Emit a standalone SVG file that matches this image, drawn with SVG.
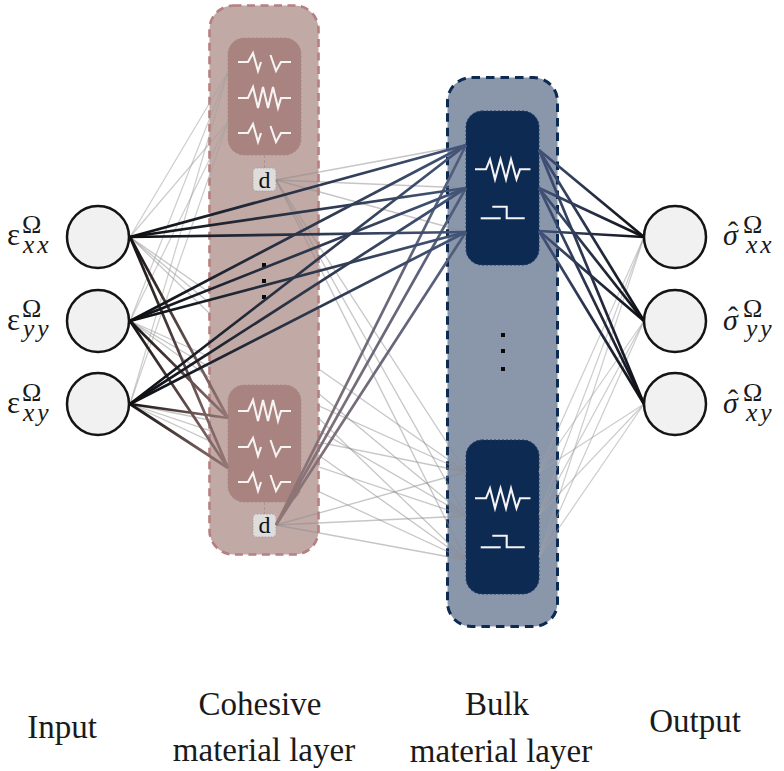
<svg xmlns="http://www.w3.org/2000/svg" width="784" height="771" viewBox="0 0 784 771">
<style>
text{font-family:"Liberation Serif","Times New Roman",serif;fill:#1a1a1a}
.lbl{font-size:33px;text-anchor:middle}
.eps{font-size:31px}
.om{font-size:26px}
.sub{font-size:25.5px;font-style:italic}
.sig{font-size:30px;font-style:italic}
.hat{font-size:30px}
.dt{font-size:24px;text-anchor:middle;fill:#111}
.outC{fill:#c1a9a6;stroke:#b5807f;stroke-width:2.6;stroke-dasharray:8 5.5}
.outB{fill:#8a96aa;stroke:#0c2a52;stroke-width:3;stroke-dasharray:8.5 6}
.inC{fill:#a9837f;stroke:#ae8885;stroke-width:1;stroke-dasharray:2 2}
.inB{fill:#0c2a52;stroke:#1f3a60;stroke-width:1;stroke-dasharray:2 2}
.dbox{fill:#dedddc;stroke:#a5a09f;stroke-width:1;stroke-dasharray:1.5 1.5}
.stem{stroke:#b58f8c;stroke-width:1;stroke-dasharray:3 2;fill:none}
.sym{fill:none;stroke:#f6f4f3;stroke-width:2.1;stroke-linejoin:miter}
.cir{fill:#f2f1f1;stroke:#141414;stroke-width:2.5}
line{fill:none}
.thin{stroke:#8e8e8e;stroke-opacity:.5;stroke-width:1.3}
.thinL{stroke:#a3a3a3;stroke-opacity:.55;stroke-width:1.2}
.a{stroke:url(#gA);stroke-width:2.7}
.b{stroke:url(#gB);stroke-width:2.7}
.c{stroke:url(#gC);stroke-width:2.7}
.d{stroke:url(#gD);stroke-width:2.7}
</style>
<defs>
<linearGradient id="gA" gradientUnits="userSpaceOnUse" x1="130" y1="0" x2="466" y2="0"><stop offset="0" stop-color="#0e0e10"/><stop offset=".5" stop-color="#2b3549"/><stop offset="1" stop-color="#435579"/></linearGradient>
<linearGradient id="gB" gradientUnits="userSpaceOnUse" x1="130" y1="0" x2="228" y2="0"><stop offset="0" stop-color="#121010"/><stop offset="1" stop-color="#977775"/></linearGradient>
<linearGradient id="gC" gradientUnits="userSpaceOnUse" x1="276" y1="0" x2="466" y2="0"><stop offset="0" stop-color="#937674"/><stop offset=".5" stop-color="#6f6a7a"/><stop offset="1" stop-color="#4b5b7b"/></linearGradient>
<linearGradient id="gD" gradientUnits="userSpaceOnUse" x1="539" y1="0" x2="644" y2="0"><stop offset="0" stop-color="#41527a"/><stop offset="1" stop-color="#0e0e12"/></linearGradient>
<polyline id="full" points="238,0 248,0 253,-11 258,10 263,-11 268,10 273,-11 278,10 281,0 291,0"/>
<g id="half"><polyline points="238,0 248,0 253,-9 258,9 261,0"/><polyline points="270.5,-7 276,9 281,0 291,0"/></g>
<g id="bulkSym"><polyline points="475,0 486,0 490,-10 495,10 500.5,-10 506,10 511,-10 516.5,10 520,0 530.5,0"/><polyline points="480.7,49 500.7,49"/><polyline points="492.3,37.5 506.7,37.5 506.7,49 524.7,49"/></g>
</defs>
<rect width="784" height="771" fill="#fff"/>

<g id="node-bulk-layer">
<rect class="outB" x="447.5" y="77.5" width="110" height="549" rx="24"/>
<rect class="inB" x="466" y="111" width="73" height="154" rx="16"/>
<rect class="inB" x="466" y="440" width="73" height="154" rx="16"/>
<use href="#bulkSym" class="sym" y="169.3"/>
<use href="#bulkSym" class="sym" y="498.3"/>
<rect x="501" y="333" width="4" height="4" fill="#0a0a0a"/>
<rect x="501" y="349" width="4" height="4" fill="#0a0a0a"/>
<rect x="501" y="367" width="4" height="4" fill="#0a0a0a"/>
</g>

<g id="connectors-behind-cohesive">
<line class="thin" x1="130" y1="237" x2="466" y2="472"/><line class="thin" x1="130" y1="237" x2="466" y2="516"/><line class="thin" x1="130" y1="237" x2="466" y2="560"/>
<line class="thin" x1="130" y1="321" x2="466" y2="472"/><line class="thin" x1="130" y1="321" x2="466" y2="516"/><line class="thin" x1="130" y1="321" x2="466" y2="560"/>
<line class="thin" x1="130" y1="404" x2="466" y2="472"/><line class="thin" x1="130" y1="404" x2="466" y2="516"/><line class="thin" x1="130" y1="404" x2="466" y2="560"/>
</g>

<g id="node-cohesive-layer">
<rect class="outC" x="209.5" y="5.5" width="109" height="549" rx="24"/>
<line class="stem" x1="264.5" y1="155" x2="264.5" y2="168"/>
<line class="stem" x1="264.5" y1="502" x2="264.5" y2="514"/>
<rect class="inC" x="228" y="38" width="73" height="117" rx="16"/>
<rect class="inC" x="228" y="385" width="73" height="117" rx="16"/>
<use href="#half" class="sym" y="62"/>
<use href="#full" class="sym" y="98"/>
<use href="#half" class="sym" y="133"/>
<use href="#full" class="sym" y="411"/>
<use href="#half" class="sym" y="447"/>
<use href="#half" class="sym" y="482"/>
<rect x="262" y="263" width="4" height="4" fill="#0a0a0a"/>
<rect x="262" y="279" width="4" height="4" fill="#0a0a0a"/>
<rect x="262" y="295" width="4" height="4" fill="#0a0a0a"/>
</g>
<g id="node-d-top"><rect class="dbox" x="253" y="168" width="23" height="23" rx="4"/><text class="dt" x="264.5" y="187.5">d</text></g>
<g id="node-d-bottom"><rect class="dbox" x="253" y="514" width="23" height="23" rx="4"/><text class="dt" x="264.5" y="532.5">d</text></g>

<g id="connectors">
<line class="thinL" x1="130" y1="237" x2="228" y2="72"/><line class="thinL" x1="130" y1="237" x2="228" y2="122"/>
<line class="thinL" x1="130" y1="321" x2="228" y2="72"/><line class="thinL" x1="130" y1="321" x2="228" y2="122"/>
<line class="thinL" x1="130" y1="404" x2="228" y2="72"/><line class="thinL" x1="130" y1="404" x2="228" y2="122"/>

<line class="thin" x1="276" y1="180" x2="466" y2="145"/><line class="thin" x1="276" y1="180" x2="466" y2="188"/><line class="thin" x1="276" y1="180" x2="466" y2="232"/>
<line class="thin" x1="276" y1="180" x2="466" y2="472"/><line class="thin" x1="276" y1="180" x2="466" y2="516"/><line class="thin" x1="276" y1="180" x2="466" y2="560"/>
<line class="thin" x1="276" y1="525" x2="466" y2="472"/><line class="thin" x1="276" y1="525" x2="466" y2="516"/><line class="thin" x1="276" y1="525" x2="466" y2="560"/>

<line class="thinL" x1="539" y1="472" x2="644" y2="237"/><line class="thinL" x1="539" y1="472" x2="644" y2="321"/><line class="thinL" x1="539" y1="472" x2="644" y2="404"/>
<line class="thinL" x1="539" y1="515" x2="644" y2="237"/><line class="thinL" x1="539" y1="515" x2="644" y2="321"/><line class="thinL" x1="539" y1="515" x2="644" y2="404"/>
<line class="thinL" x1="539" y1="557" x2="644" y2="237"/><line class="thinL" x1="539" y1="557" x2="644" y2="321"/><line class="thinL" x1="539" y1="557" x2="644" y2="404"/>

<line class="b" x1="130" y1="237" x2="228" y2="418"/><line class="b" x1="130" y1="237" x2="228" y2="468"/>
<line class="b" x1="130" y1="321" x2="228" y2="418"/><line class="b" x1="130" y1="321" x2="228" y2="468"/>
<line class="b" x1="130" y1="404" x2="228" y2="418"/><line class="b" x1="130" y1="404" x2="228" y2="468"/>

<line class="c" x1="276" y1="525" x2="466" y2="145"/><line class="c" x1="276" y1="525" x2="466" y2="188"/><line class="c" x1="276" y1="525" x2="466" y2="232"/>

<line class="a" x1="130" y1="237" x2="466" y2="145"/><line class="a" x1="130" y1="237" x2="466" y2="188"/><line class="a" x1="130" y1="237" x2="466" y2="232"/>
<line class="a" x1="130" y1="321" x2="466" y2="145"/><line class="a" x1="130" y1="321" x2="466" y2="188"/><line class="a" x1="130" y1="321" x2="466" y2="232"/>
<line class="a" x1="130" y1="404" x2="466" y2="145"/><line class="a" x1="130" y1="404" x2="466" y2="188"/><line class="a" x1="130" y1="404" x2="466" y2="232"/>

<line class="d" x1="539" y1="150" x2="644" y2="237"/><line class="d" x1="539" y1="150" x2="644" y2="321"/><line class="d" x1="539" y1="150" x2="644" y2="404"/>
<line class="d" x1="539" y1="188" x2="644" y2="237"/><line class="d" x1="539" y1="188" x2="644" y2="321"/><line class="d" x1="539" y1="188" x2="644" y2="404"/>
<line class="d" x1="539" y1="231" x2="644" y2="237"/><line class="d" x1="539" y1="231" x2="644" y2="321"/><line class="d" x1="539" y1="231" x2="644" y2="404"/>
</g>

<g id="node-in-xx"><circle class="cir" cx="98" cy="237" r="31"/><text><tspan class="eps" x="7" y="245">ε</tspan><tspan class="om" x="22" y="233">Ω</tspan><tspan class="sub" x="23" y="253" dx="0 3">xx</tspan></text></g>
<g id="node-in-yy"><circle class="cir" cx="98" cy="321" r="31"/><text><tspan class="eps" x="7" y="330">ε</tspan><tspan class="om" x="22" y="317">Ω</tspan><tspan class="sub" x="23" y="337" dx="0 3">yy</tspan></text></g>
<g id="node-in-xy"><circle class="cir" cx="98" cy="404" r="31"/><text><tspan class="eps" x="7" y="413">ε</tspan><tspan class="om" x="22" y="401">Ω</tspan><tspan class="sub" x="23" y="421" dx="0 3">xy</tspan></text></g>
<g id="node-out-xx"><circle class="cir" cx="675" cy="237" r="31"/><text><tspan class="sig" x="723" y="245">σ</tspan><tspan class="hat" x="728" y="242">ˆ</tspan><tspan class="om" x="743" y="233">Ω</tspan><tspan class="sub" x="746" y="253" dx="0 3">xx</tspan></text></g>
<g id="node-out-yy"><circle class="cir" cx="675" cy="321" r="31"/><text><tspan class="sig" x="723" y="330">σ</tspan><tspan class="hat" x="728" y="327">ˆ</tspan><tspan class="om" x="743" y="317">Ω</tspan><tspan class="sub" x="746" y="337" dx="0 3">yy</tspan></text></g>
<g id="node-out-xy"><circle class="cir" cx="675" cy="404" r="31"/><text><tspan class="sig" x="723" y="413">σ</tspan><tspan class="hat" x="728" y="410">ˆ</tspan><tspan class="om" x="743" y="401">Ω</tspan><tspan class="sub" x="746" y="421" dx="0 3">xy</tspan></text></g>

<g id="labels">
<text class="lbl" x="62" y="738">Input</text>
<text class="lbl" x="260" y="715">Cohesive</text>
<text class="lbl" x="264" y="761">material layer</text>
<text class="lbl" x="497" y="715">Bulk</text>
<text class="lbl" x="501" y="762">material layer</text>
<text class="lbl" x="695" y="732">Output</text>
</g>
</svg>
